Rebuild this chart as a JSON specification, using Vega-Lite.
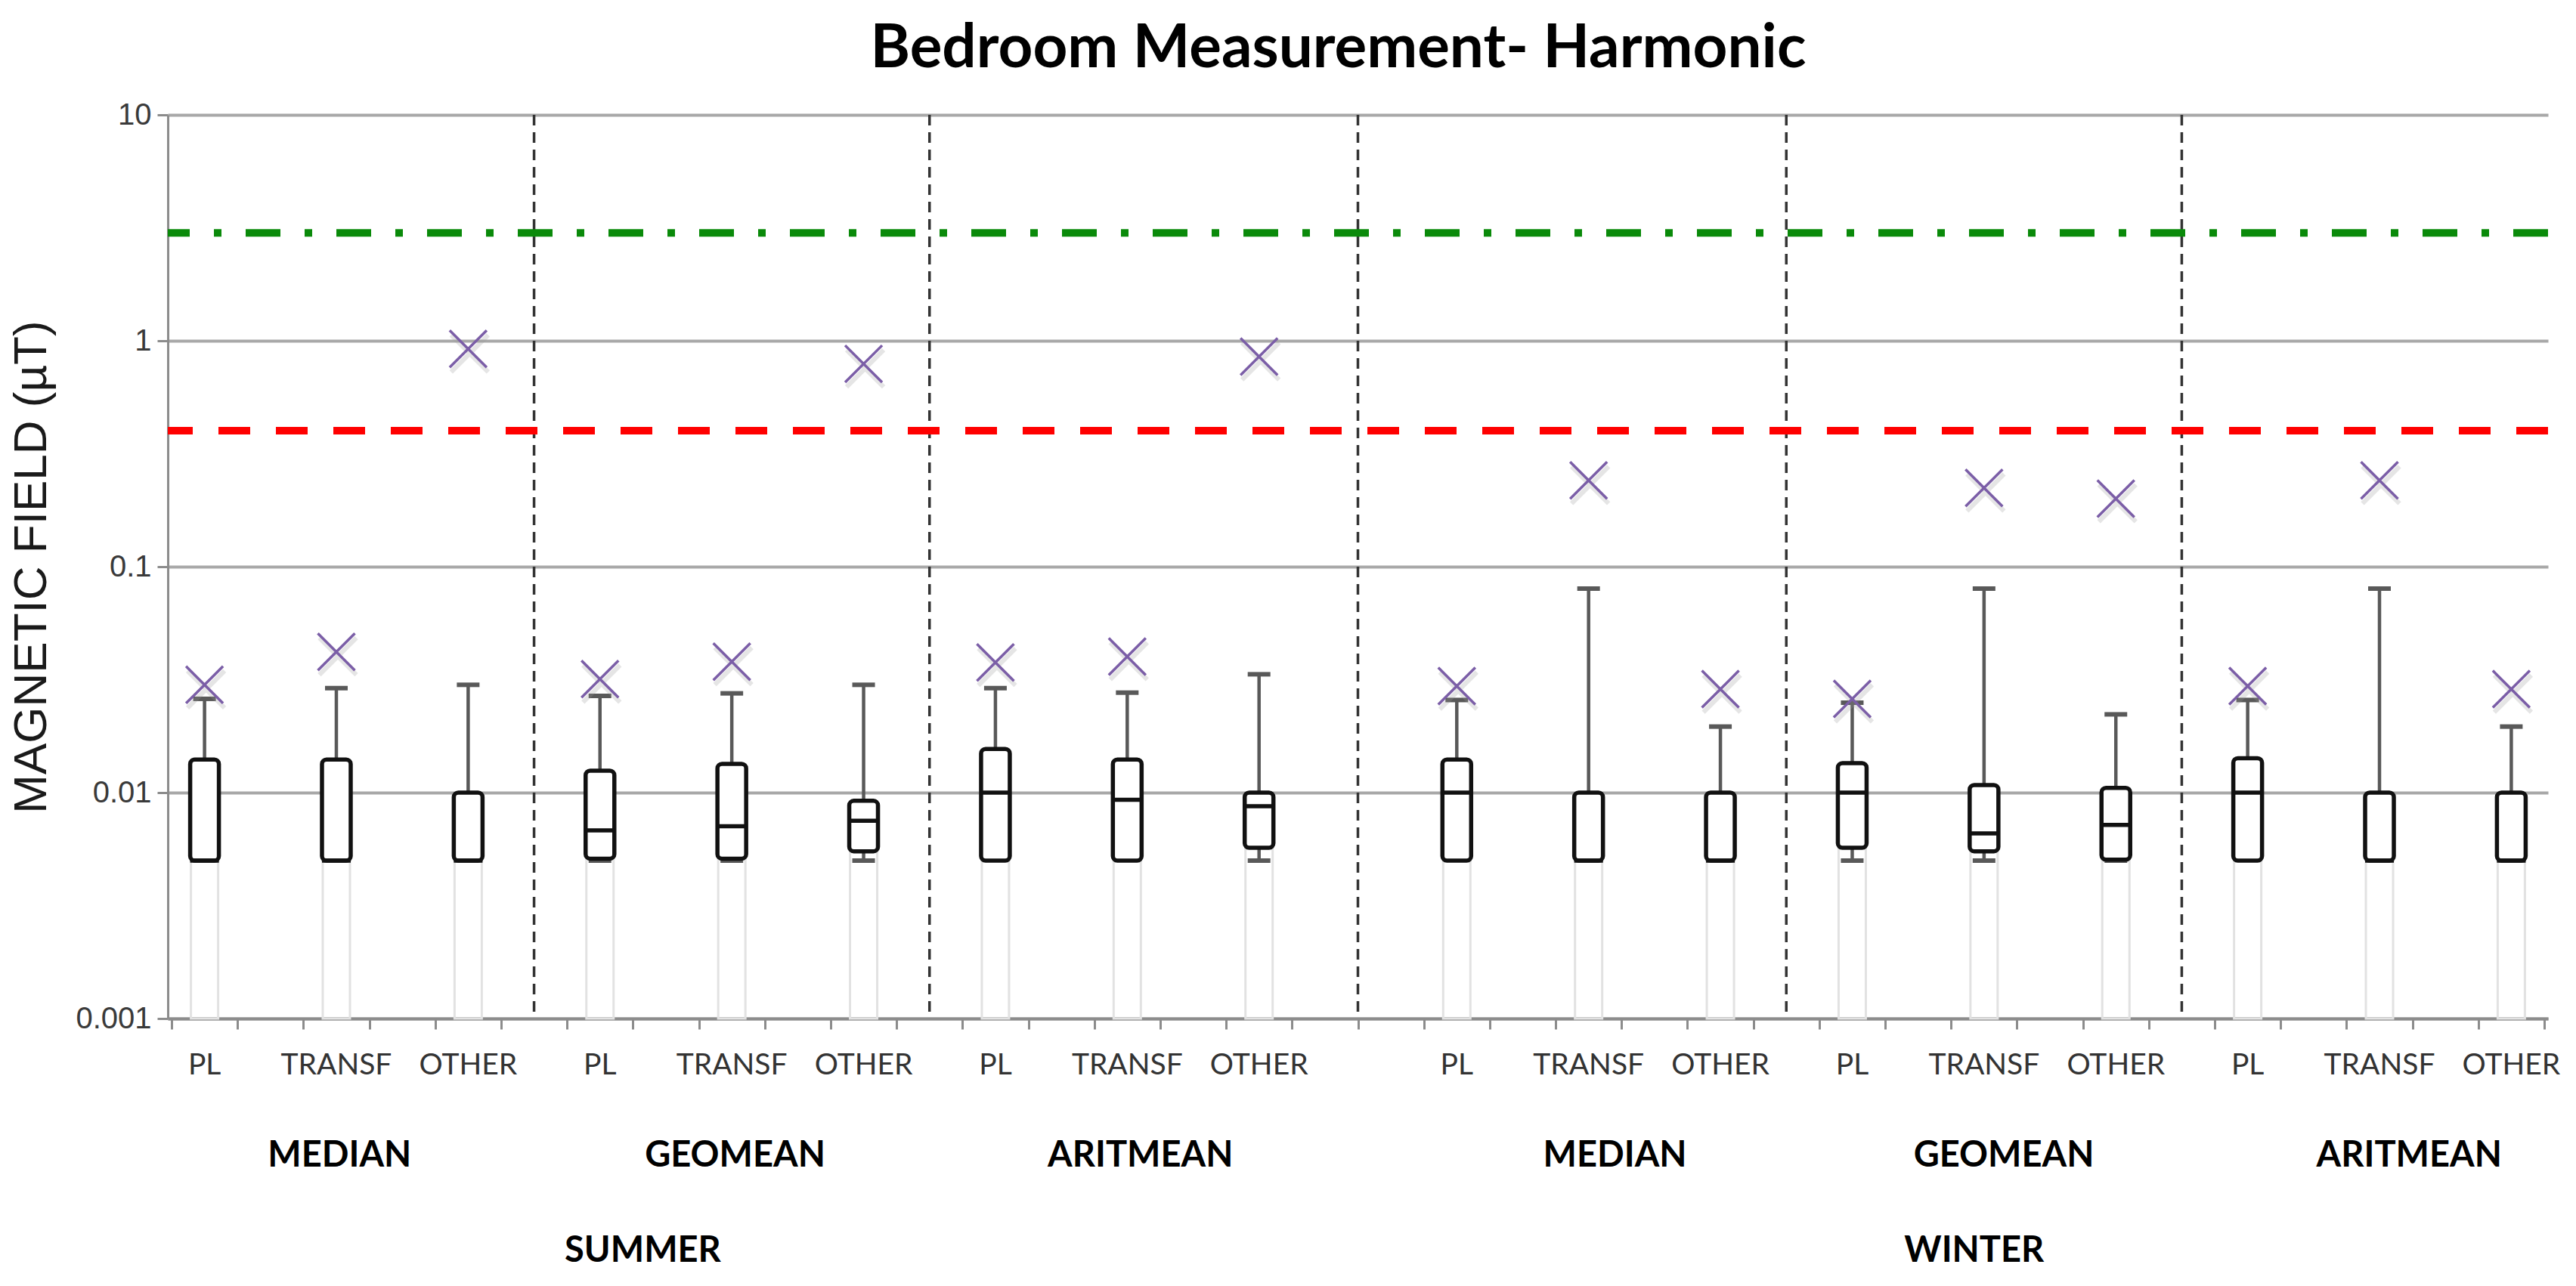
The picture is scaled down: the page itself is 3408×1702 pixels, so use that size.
{
  "$schema": "https://vega.github.io/schema/vega-lite/v6.json",
  "width": 3149,
  "height": 1196,
  "autosize": {"type": "none"},
  "padding": {"left": 222, "top": 152, "right": 37, "bottom": 354},
  "background": "white",
  "title": {"text": "Bedroom Measurement- Harmonic", "font": "Lato", "fontSize": 80, "fontWeight": "bold", "color": "#000000", "anchor": "middle", "offset": 26, "dx": -26},
  "config": {"view": {"stroke": null}},
  "datasets": {
    "boxes": [
      {"idx": 0, "season": "SUMMER", "stat": "MEDIAN", "src": "PL", "q1": 0.005, "med": 0.005, "q3": 0.014, "wlo": 0.005, "whi": 0.026, "xmax": 0.030},
      {"idx": 2, "season": "SUMMER", "stat": "MEDIAN", "src": "TRANSF", "q1": 0.005, "med": 0.005, "q3": 0.014, "wlo": 0.005, "whi": 0.029, "xmax": 0.042},
      {"idx": 4, "season": "SUMMER", "stat": "MEDIAN", "src": "OTHER", "q1": 0.005, "med": 0.005, "q3": 0.010, "wlo": 0.005, "whi": 0.030, "xmax": 0.92},
      {"idx": 6, "season": "SUMMER", "stat": "GEOMEAN", "src": "PL", "q1": 0.0051, "med": 0.0068, "q3": 0.0125, "wlo": 0.005, "whi": 0.0268, "xmax": 0.0318},
      {"idx": 8, "season": "SUMMER", "stat": "GEOMEAN", "src": "TRANSF", "q1": 0.0051, "med": 0.0071, "q3": 0.0134, "wlo": 0.005, "whi": 0.0275, "xmax": 0.038},
      {"idx": 10, "season": "SUMMER", "stat": "GEOMEAN", "src": "OTHER", "q1": 0.0055, "med": 0.0075, "q3": 0.0092, "wlo": 0.005, "whi": 0.030, "xmax": 0.79},
      {"idx": 12, "season": "SUMMER", "stat": "ARITMEAN", "src": "PL", "q1": 0.005, "med": 0.010, "q3": 0.0156, "wlo": 0.005, "whi": 0.029, "xmax": 0.0377},
      {"idx": 14, "season": "SUMMER", "stat": "ARITMEAN", "src": "TRANSF", "q1": 0.005, "med": 0.0093, "q3": 0.014, "wlo": 0.005, "whi": 0.0277, "xmax": 0.040},
      {"idx": 16, "season": "SUMMER", "stat": "ARITMEAN", "src": "OTHER", "q1": 0.0057, "med": 0.0087, "q3": 0.010, "wlo": 0.005, "whi": 0.0334, "xmax": 0.85},
      {"idx": 19, "season": "WINTER", "stat": "MEDIAN", "src": "PL", "q1": 0.005, "med": 0.010, "q3": 0.014, "wlo": 0.005, "whi": 0.0257, "xmax": 0.0296},
      {"idx": 21, "season": "WINTER", "stat": "MEDIAN", "src": "TRANSF", "q1": 0.005, "med": 0.005, "q3": 0.010, "wlo": 0.005, "whi": 0.080, "xmax": 0.241},
      {"idx": 23, "season": "WINTER", "stat": "MEDIAN", "src": "OTHER", "q1": 0.005, "med": 0.005, "q3": 0.010, "wlo": 0.005, "whi": 0.0196, "xmax": 0.0287},
      {"idx": 25, "season": "WINTER", "stat": "GEOMEAN", "src": "PL", "q1": 0.0057, "med": 0.010, "q3": 0.0135, "wlo": 0.005, "whi": 0.025, "xmax": 0.026},
      {"idx": 27, "season": "WINTER", "stat": "GEOMEAN", "src": "TRANSF", "q1": 0.0055, "med": 0.0066, "q3": 0.0108, "wlo": 0.005, "whi": 0.080, "xmax": 0.223},
      {"idx": 29, "season": "WINTER", "stat": "GEOMEAN", "src": "OTHER", "q1": 0.00505, "med": 0.0072, "q3": 0.0105, "wlo": 0.005, "whi": 0.0222, "xmax": 0.20},
      {"idx": 31, "season": "WINTER", "stat": "ARITMEAN", "src": "PL", "q1": 0.005, "med": 0.010, "q3": 0.0142, "wlo": 0.005, "whi": 0.0257, "xmax": 0.0296},
      {"idx": 33, "season": "WINTER", "stat": "ARITMEAN", "src": "TRANSF", "q1": 0.005, "med": 0.005, "q3": 0.010, "wlo": 0.005, "whi": 0.080, "xmax": 0.241},
      {"idx": 35, "season": "WINTER", "stat": "ARITMEAN", "src": "OTHER", "q1": 0.005, "med": 0.005, "q3": 0.010, "wlo": 0.005, "whi": 0.0196, "xmax": 0.0287}
    ],
    "separators": [{"idx": 5}, {"idx": 11}, {"idx": 17.5}, {"idx": 24}, {"idx": 30}],
    "groups": [
      {"idx": 2.05, "label": "MEDIAN"},
      {"idx": 8.05, "label": "GEOMEAN"},
      {"idx": 14.2, "label": "ARITMEAN"},
      {"idx": 21.4, "label": "MEDIAN"},
      {"idx": 27.3, "label": "GEOMEAN"},
      {"idx": 33.45, "label": "ARITMEAN"}
    ],
    "seasons": [{"idx": 6.65, "label": "SUMMER"}, {"idx": 26.85, "label": "WINTER"}],
    "greenlimit": [{"limit": 3}],
    "redlimit": [{"limit": 0.4}]
  },
  "data": {"name": "boxes"},
  "layer": [
    {
      "mark": {"type": "bar", "width": 36, "fillOpacity": 0, "stroke": "#e2e2e2", "strokeWidth": 3},
      "encoding": {
        "x": {"field": "idx", "type": "quantitative", "scale": {"domain": [-0.5, 35.5], "nice": false, "zero": false},
          "axis": {"title": null, "values": [-0.5, 0.5, 1.5, 2.5, 3.5, 4.5, 5.5, 6.5, 7.5, 8.5, 9.5, 10.5, 11.5, 12.5, 13.5, 14.5, 15.5, 16.5, 17.5, 18.5, 19.5, 20.5, 21.5, 22.5, 23.5, 24.5, 25.5, 26.5, 27.5, 28.5, 29.5, 30.5, 31.5, 32.5, 33.5, 34.5, 35.5],
            "labels": false, "grid": false, "ticks": true, "tickSize": 14, "tickWidth": 3, "tickColor": "#8c8c8c", "domain": true, "domainColor": "#8c8c8c", "domainWidth": 4}},
        "y": {"field": "q1", "type": "quantitative", "scale": {"type": "log", "domain": [0.001, 10], "nice": false},
          "axis": {"title": "MAGNETIC FIELD (µT)", "values": [0.001, 0.01, 0.1, 1, 10], "format": "~g",
            "grid": true, "gridColor": "#a8a8a8", "gridWidth": 4, "domain": true, "domainColor": "#8c8c8c", "domainWidth": 3,
            "ticks": true, "tickSize": 14, "tickWidth": 3, "tickColor": "#8c8c8c",
            "labelFont": "Liberation Sans", "labelFontSize": 40, "labelColor": "#3a3a3a", "labelPadding": 8,
            "titleFont": "Liberation Sans", "titleFontSize": 62, "titleFontWeight": "normal", "titleColor": "#1a1a1a", "titlePadding": 26}},
        "y2": {"datum": 0.001}
      }
    },
    {
      "data": {"name": "separators"},
      "mark": {"type": "rule", "color": "#333333", "strokeWidth": 3.5, "strokeDash": [14, 9]},
      "encoding": {"x": {"field": "idx", "type": "quantitative"}}
    },
    {
      "mark": {"type": "rule", "color": "#595959", "strokeWidth": 4.5},
      "encoding": {
        "x": {"field": "idx", "type": "quantitative"},
        "y": {"field": "q3", "type": "quantitative"},
        "y2": {"field": "whi"}
      }
    },
    {
      "transform": [{"filter": "datum.wlo < datum.q1"}],
      "mark": {"type": "rule", "color": "#595959", "strokeWidth": 4.5},
      "encoding": {
        "x": {"field": "idx", "type": "quantitative"},
        "y": {"field": "wlo", "type": "quantitative"},
        "y2": {"field": "q1"}
      }
    },
    {
      "mark": {"type": "point", "shape": "M-1,0L1,0", "size": 900, "filled": false, "stroke": "#595959", "strokeWidth": 6, "opacity": 1},
      "encoding": {
        "x": {"field": "idx", "type": "quantitative"},
        "y": {"field": "whi", "type": "quantitative"}
      }
    },
    {
      "transform": [{"filter": "datum.wlo < datum.q1"}],
      "mark": {"type": "point", "shape": "M-1,0L1,0", "size": 900, "filled": false, "stroke": "#595959", "strokeWidth": 6, "opacity": 1},
      "encoding": {
        "x": {"field": "idx", "type": "quantitative"},
        "y": {"field": "wlo", "type": "quantitative"}
      }
    },
    {
      "mark": {"type": "bar", "width": 38, "fill": "white", "stroke": "#111111", "strokeWidth": 5.5, "cornerRadius": 6},
      "encoding": {
        "x": {"field": "idx", "type": "quantitative"},
        "y": {"field": "q1", "type": "quantitative"},
        "y2": {"field": "q3"}
      }
    },
    {
      "mark": {"type": "point", "shape": "M-1,0L1,0", "size": 1444, "filled": false, "stroke": "#111111", "strokeWidth": 5.5, "opacity": 1},
      "encoding": {
        "x": {"field": "idx", "type": "quantitative"},
        "y": {"field": "med", "type": "quantitative"}
      }
    },
    {
      "data": {"name": "greenlimit"},
      "mark": {"type": "rule", "color": "#0a8a0a", "strokeWidth": 10, "strokeDash": [46, 32, 10, 32]},
      "encoding": {"y": {"field": "limit", "type": "quantitative"}}
    },
    {
      "data": {"name": "redlimit"},
      "mark": {"type": "rule", "color": "#ff0000", "strokeWidth": 10, "strokeDash": [42, 34]},
      "encoding": {"y": {"field": "limit", "type": "quantitative"}}
    },
    {
      "mark": {"type": "point", "shape": "M-1,-1L1,1M1,-1L-1,1", "size": 2400, "filled": false, "stroke": "#999999", "strokeWidth": 6, "opacity": 0.25, "yOffset": 6, "xOffset": 2},
      "encoding": {
        "x": {"field": "idx", "type": "quantitative"},
        "y": {"field": "xmax", "type": "quantitative"}
      }
    },
    {
      "mark": {"type": "point", "shape": "M-1,-1L1,1M1,-1L-1,1", "size": 2400, "filled": false, "stroke": "#7b5ea7", "strokeWidth": 3.5, "opacity": 1},
      "encoding": {
        "x": {"field": "idx", "type": "quantitative"},
        "y": {"field": "xmax", "type": "quantitative"}
      }
    },
    {
      "mark": {"type": "text", "font": "Lato", "fontSize": 39, "color": "#333333", "align": "center", "baseline": "middle"},
      "encoding": {
        "x": {"field": "idx", "type": "quantitative"},
        "y": {"datum": 0.00062, "type": "quantitative"},
        "text": {"field": "src"}
      }
    },
    {
      "data": {"name": "groups"},
      "mark": {"type": "text", "font": "Lato", "fontSize": 47, "fontWeight": "bold", "color": "#000000", "align": "center", "baseline": "middle"},
      "encoding": {
        "x": {"field": "idx", "type": "quantitative"},
        "y": {"datum": 0.000246, "type": "quantitative"},
        "text": {"field": "label"}
      }
    },
    {
      "data": {"name": "seasons"},
      "mark": {"type": "text", "font": "Lato", "fontSize": 47, "fontWeight": "bold", "color": "#000000", "align": "center", "baseline": "middle"},
      "encoding": {
        "x": {"field": "idx", "type": "quantitative"},
        "y": {"datum": 0.0000933, "type": "quantitative"},
        "text": {"field": "label"}
      }
    }
  ]
}
